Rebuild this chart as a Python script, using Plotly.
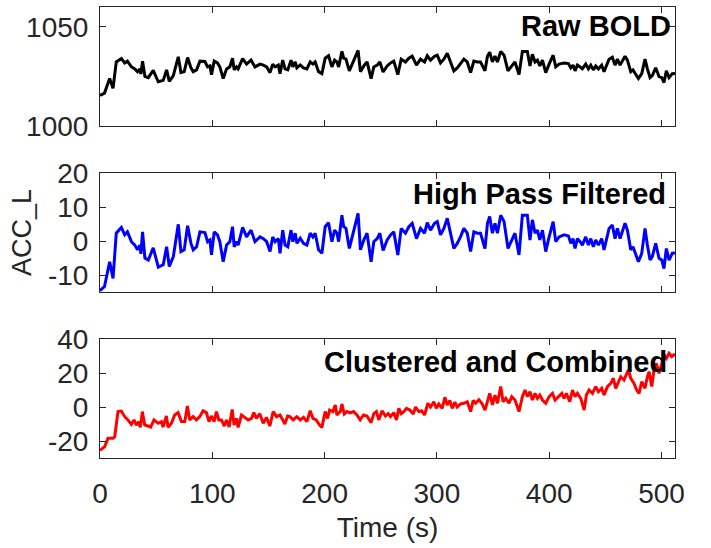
import plotly.graph_objects as go

# ---------------- data ----------------
t_hp = [0, 4, 8.6, 11.6, 14.5, 19, 22, 24.4, 28, 31, 33.4, 35.5, 36.4, 37.9, 40, 43, 47.4, 51.9, 56.3, 59.3,
        61.7, 65.3, 69.7, 72.1, 75, 78, 81, 83, 86, 89, 93.4, 95.8, 97.9, 99.3, 101.7, 104.6, 106.7, 109.7, 112.7, 115.6,
        118, 119.5, 121.6, 123, 127, 130.5, 134.5, 138, 142.5, 145.5, 148.4, 151.4, 153.8, 155.9, 158.8, 160.3, 162.7, 164.8, 167.2, 170.1,
        171.7, 173.8, 175.3, 178.3, 181.2, 184.2, 187.2, 189.6, 191.6, 194.6, 197.6, 200.5, 203.5, 206.5, 208.9, 211, 212.5, 215.4, 217, 219,
        222, 225.9, 229.8, 231.9, 234.9, 237.8, 241.4, 243.8, 246.8, 249.2, 252.1, 255.7, 258.7, 261.6, 265.2, 268.2, 272, 275, 278, 281.8,
        285.4, 289, 291.4, 294.3, 297.9, 300.3, 303.2, 306.2, 309.2, 312.1, 315.1, 318.1, 321, 324, 327, 330, 332.9, 335.9, 338.8, 342.8,
        345, 347, 349.4, 351.7, 353.9, 356.8, 359.8, 363.3, 367.2, 369.5, 373.1, 376.1, 380.5, 382.9, 385, 387.4, 389.5, 391.6, 394, 396.9,
        399.9, 403.5, 405.8, 408.8, 413.2, 417.1, 419.2, 421.2, 423, 425.1, 427.5, 429.5, 432.5, 434.9, 437, 439.3, 441.4, 443.8, 446.7, 448.8,
        453.3, 456.2, 458.6, 460.7, 463.1, 465.1, 467.5, 469.6, 472.6, 474.6, 477, 479.4, 482.4, 485.3, 487.4, 489.8, 491.8, 494.8, 497.8, 500.2,
        502.2, 504.3, 506.7, 509.6, 512]

high_pass = [-14.6, -13.4, -6.1, -11, 2.3, 4, 1.8, 2.7, -0.2, -1.2, -2.6, -1.2, -3.8, 2.7, -5, -5.6, -2, -7.7, -7, -1.7,
             -7.5, -4.6, 4.9, -3.1, -2.6, 4.5, -0.7, -2.6, -1.7, 2.7, 2.5, -0.2, 0.3, -4.1, 2.7, 1.8, -0.2, -6.1, -1.2, -0.2,
             4.2, -1.7, -0.2, -1.2, 4, 1.2, 3.2, -0.2, 1.2, 0.7, -0.2, -3.1, 1.2, -0.2, 0.7, -3.6, 3.2, -1.2, -1.7, 3.2,
             -0.2, 2.3, -0.7, 0.8, -0.7, -1.2, 2.3, 1.2, 2.3, -2.6, -3.6, 4.2, 5.4, -0.2, 3.2, 2.3, -0.2, 7.6, 4.2, 3.7,
             -2.2, 2.7, 8.1, -2.6, 0.3, 2.3, -6.1, -0.2, 0.7, 2.3, -2.8, 0.3, 1.8, 2.7, -4.1, 3.7, 2.3, 4.2, 5.2, 0.7,
             3.7, 2.3, 5.4, 3.2, 5.2, 5.7, 1.8, 3.7, 6.7, 2.3, -2.2, -0.7, 1.2, 3.7, 2.3, -3.1, 2.7, 2.3, 2.3, -2.2,
             5.2, 7.2, 2.3, 5.2, 2.3, 7.6, 5.7, -2.2, 0.7, 2.3, -4.1, 7.6, 7.6, 0.3, 6.2, 2.3, 3.2, 0.3, 3.2, -3.1,
             1.2, 5.7, -0.2, 1.2, 1.8, 1.5, -0.7, 0.7, -2.2, 0.7, -0.2, -1.2, 1.2, -1.2, 0.7, -1.7, 0.3, -1.2, 0.7, -2.6,
             3.7, 4.7, 0.7, 3.7, 0.7, 2.7, 5.2, 3.2, -2.6, -1.7, -4.1, -6.1, -3.6, 3.7, -1.2, -5.6, -4.6, -0.7, -5.1, -5.6,
             -8.1, -2.2, -5.6, -3.6, -3.5]

raw_bold = [1015.4, 1016.6, 1023.9, 1019, 1032.3, 1034, 1031.8, 1032.7, 1029.8, 1028.8, 1027.4, 1028.8, 1026.2, 1032.7, 1025, 1024.4, 1028, 1022.3, 1023, 1028.3,
            1022.5, 1025.4, 1034.9, 1026.9, 1027.4, 1034.5, 1029.3, 1027.4, 1028.3, 1032.7, 1032.5, 1029.8, 1030.3, 1025.9, 1032.7, 1031.8, 1029.8, 1023.9, 1028.8, 1029.8,
            1034.2, 1028.3, 1029.8, 1028.8, 1034, 1031.2, 1033.2, 1029.8, 1031.2, 1030.7, 1029.8, 1026.9, 1031.2, 1029.8, 1030.7, 1026.4, 1033.2, 1028.8, 1028.3, 1033.2,
            1029.8, 1032.3, 1029.3, 1030.8, 1029.3, 1028.8, 1032.3, 1031.2, 1032.3, 1027.4, 1026.4, 1034.2, 1035.4, 1029.8, 1033.2, 1032.3, 1029.8, 1037.6, 1034.2, 1033.7,
            1027.8, 1032.7, 1038.1, 1027.4, 1030.3, 1032.3, 1023.9, 1029.8, 1030.7, 1032.3, 1027.2, 1030.3, 1031.8, 1032.7, 1025.9, 1033.7, 1032.3, 1034.2, 1035.2, 1030.7,
            1033.7, 1032.3, 1035.4, 1033.2, 1035.2, 1035.7, 1031.8, 1033.7, 1036.7, 1032.3, 1027.8, 1029.3, 1031.2, 1033.7, 1032.3, 1026.9, 1032.7, 1032.3, 1032.3, 1027.8,
            1035.2, 1037.2, 1032.3, 1035.2, 1032.3, 1037.6, 1035.7, 1027.8, 1030.7, 1032.3, 1025.9, 1037.6, 1037.6, 1030.3, 1036.2, 1032.3, 1033.2, 1030.3, 1033.2, 1026.9,
            1031.2, 1035.7, 1029.8, 1031.2, 1031.8, 1031.5, 1029.3, 1030.7, 1027.8, 1030.7, 1029.8, 1028.8, 1031.2, 1028.8, 1030.7, 1028.3, 1030.3, 1028.8, 1030.7, 1027.4,
            1033.7, 1034.7, 1030.7, 1033.7, 1030.7, 1032.7, 1035.2, 1033.2, 1027.4, 1028.3, 1025.9, 1023.9, 1026.4, 1033.7, 1028.8, 1024.4, 1025.4, 1029.3, 1024.9, 1024.4,
            1021.9, 1027.8, 1024.4, 1026.4, 1026.5]

t_cc = [0, 4.2, 7.1, 11.6, 13.1, 16, 19, 22, 24.9, 27.9, 30.3, 32.4, 34.5, 35.9, 37.7, 39.8, 42.8, 45.1, 48.1, 51.7,
        54.7, 56.1, 59.1, 60.6, 63.6, 66.5, 69.5, 72.5, 75.5, 77.8, 79.9, 82.9, 85.9, 88.8, 91.8, 94.7, 97.1, 99.2, 101.6, 103.7,
        105.8, 108.2, 110.6, 112.6, 115, 117.7, 119.4, 121.5, 123, 126, 128.9, 131.9, 134.9, 137, 139.3, 142.3, 145.3, 148.2, 151.2, 154.2,
        157.2, 160.2, 162.5, 164.6, 167, 169.1, 172, 175.3, 178.3, 181.2, 184.2, 187.2, 189.6, 192.5, 195.5, 197.6, 200.5, 202.6, 204.4, 207.4,
        209.5, 211, 214, 215.4, 217.5, 219.9, 222.8, 225.8, 228.8, 231.7, 234.7, 237.7, 241.4, 243.8, 246.1, 248.2, 251.2, 254.2, 256.6, 258.7,
        261.6, 264, 266.1, 268.2, 270.5, 272.9, 275.9, 278.9, 281, 283.9, 286.3, 289, 291.9, 294.3, 297.3, 299.4, 301.7, 304.7, 307.1, 309.2,
        311.5, 313.6, 316, 318.1, 321, 324, 327, 330, 332.3, 334.4, 337.4, 340.3, 342.8, 345, 347, 349.4, 351.7, 353.9, 356.8, 358.9,
        361.3, 364.2, 366.6, 369.5, 373.1, 376.1, 378.5, 380.5, 382.9, 385, 387.4, 389.5, 391.6, 394, 396.9, 399.9, 402.9, 405.2, 408.2, 411.2,
        413.2, 415.3, 418.3, 420.7, 423, 425.1, 428.1, 431.1, 433.1, 435.5, 438.5, 441.4, 443.8, 446.8, 448.8, 451.8, 454.8, 457.1, 459.2, 461.6,
        463.7, 466.6, 468.7, 470.5, 472.6, 475.5, 477.9, 480, 482.4, 485.3, 487.4, 488.9, 491.3, 493.3, 495.4, 497.8, 499.9, 502.2, 504.3, 506.7,
        509, 512]

clustered = [-25.5, -23.3, -18.4, -18.4, -17.5, -2.7, -2.4, -5.7, -7.6, -10.2, -7.6, -10.6, -8.6, -12, -2.7, -10.6, -11.2, -11.8, -7.6, -9.6,
             -8.6, -11.8, -5.3, -12, -9.6, -4.7, -3.3, -8.6, -8.6, 0.6, -7.6, -5.7, -7.6, -5.7, -2.2, -3.3, -8.6, -5.3, -8.6, -2.7,
             -7.6, -7.6, -11.2, -7.6, -11.8, -1.4, -10.6, -6.7, -12, -4.7, -6.1, -7.6, -6.7, -3.3, -6.7, -3.9, -9.6, -6.1, -11.2, -2.7,
             -5.7, -4.7, -7.3, -10, -5.3, -5.7, -7.6, -5.7, -7.6, -6.1, -8.6, -2.2, -6.7, -7.6, -10.6, -12, -2.7, -6.7, -1.8, -2.7,
             1.2, -4.7, -2.7, 1.8, -4.1, -2.7, -3.5, -2.7, -4.7, -7.6, -4.7, -5.3, -9.2, -3.9, -2.7, -7.6, -2.2, -5.3, -3.9, -5.7,
             -3.3, -7.6, -0.8, -3.9, -2.7, -0.8, -1.8, -4.1, 0, -2.7, -2.2, -4.7, 2.2, 0, 3.1, -0.8, 1.8, -0.8, 5.7, 1.2,
             3.9, -0.8, 2.9, 0, 1.8, 2.2, 3.1, -2.7, 3.9, 2.2, 4.3, 1.8, -1.8, 3.1, 8, 1.2, 7, 2.2, 12, 3.1,
             5.1, 2.2, 6.1, 4.1, -2.7, 6.1, 10, 6.1, 9, 4.1, 8, 5.1, 7, 4.1, 2.2, 6.1, 8, 4.1, 6.1, 8,
             5.1, 8, 3.1, 10, 6.1, 8, 5.1, -1.8, 7, 10, 8, 12, 9, 11, 7, 12, 13.9, 16.9, 11, 14.9,
             17.8, 15.9, 18.8, 21.8, 16.9, 13.9, 10, 8, 14.9, 11, 17.8, 20.8, 12, 21.8, 25.7, 19.8, 24.7, 30.6, 28.6, 31.6,
             29.6, 31.2]

x_ticks = [0, 100, 200, 300, 400, 500]
x_ticklabels = ["0", "100", "200", "300", "400", "500"]
y1_ticks = [1000, 1050]
y1_ticklabels = ["1000", "1050"]
y2_ticks = [-10, 0, 10, 20]
y2_ticklabels = ["-10", "0", "10", "20"]
y3_ticks = [-20, 0, 20, 40]
y3_ticklabels = ["-20", "0", "20", "40"]
panel_titles = ["Raw BOLD", "High Pass Filtered", "Clustered and Combined"]
y_label = "ACC_L"
x_label = "Time (s)"

# ---------------- figure ----------------
FONT = "Liberation Sans, Arial, Helvetica, sans-serif"
AX = "#262626"

fig = go.Figure()
fig.add_trace(go.Scatter(x=t_hp, y=raw_bold, mode="lines", line=dict(color="#000000", width=3),
                         xaxis="x", yaxis="y", showlegend=False))
fig.add_trace(go.Scatter(x=t_hp, y=high_pass, mode="lines", line=dict(color="#0000FF", width=3),
                         xaxis="x2", yaxis="y2", showlegend=False))
fig.add_trace(go.Scatter(x=t_cc, y=clustered, mode="lines", line=dict(color="#FF0000", width=3),
                         xaxis="x3", yaxis="y3", showlegend=False))

H = 548 - 7 - 90
d3 = [0, 119 / H]
d2 = [(458 - 292) / H, (458 - 173) / H]
d1 = [(458 - 126) / H, 1]

def xax(anchor, show_labels, title=None):
    a = dict(anchor=anchor, domain=[0, 1], range=[0, 512], tickvals=x_ticks, ticktext=x_ticklabels,
             showticklabels=show_labels, ticks="inside", ticklen=6, tickwidth=1, tickcolor=AX,
             showline=True, linecolor=AX, linewidth=1, mirror="ticks", showgrid=False, zeroline=False,
             tickfont=dict(family=FONT, size=28, color=AX), ticklabelstandoff=10)
    if title:
        a["title"] = dict(text=title, font=dict(family=FONT, size=28, color=AX), standoff=9)
    return a

def yax(anchor, dom, rng, tv, tt, title=None):
    a = dict(anchor=anchor, domain=dom, range=rng, tickvals=tv, ticktext=tt,
             ticks="inside", ticklen=6, tickwidth=1, tickcolor=AX,
             showline=True, linecolor=AX, linewidth=1, mirror="ticks", showgrid=False, zeroline=False,
             tickfont=dict(family=FONT, size=28, color=AX), ticklabelstandoff=5)
    if title:
        a["title"] = dict(text=title, font=dict(family=FONT, size=27, color=AX), standoff=8)
    return a

fig.update_layout(
    width=711, height=548,
    margin=dict(l=100, r=36, t=7, b=90, autoexpand=False),
    paper_bgcolor="white", plot_bgcolor="white",
    xaxis=xax("y", False), yaxis=yax("x", d1, [1000, 1060], y1_ticks, y1_ticklabels),
    xaxis2=xax("y2", False), yaxis2=yax("x2", d2, [-15, 20], y2_ticks, y2_ticklabels, y_label),
    xaxis3=xax("y3", True, x_label), yaxis3=yax("x3", d3, [-30, 40], y3_ticks, y3_ticklabels),
)

for i, (txt, yr) in enumerate(zip(panel_titles, ["y domain", "y2 domain", "y3 domain"])):
    xr = ["x domain", "x2 domain", "x3 domain"][i]
    fig.add_annotation(text="<b>%s</b>" % txt, xref=xr, yref=yr, x=1, y=1,
                       xanchor="right", yanchor="top", xshift=[-2, -7, -6][i], yshift=[-1, -3, -5][i],
                       showarrow=False, font=dict(family=FONT, size=29, color="#000000"))

fig.write_html("out.html", config={"displayModeBar": False},
               post_script="document.body.style.margin='0';document.body.style.overflow='hidden';")
